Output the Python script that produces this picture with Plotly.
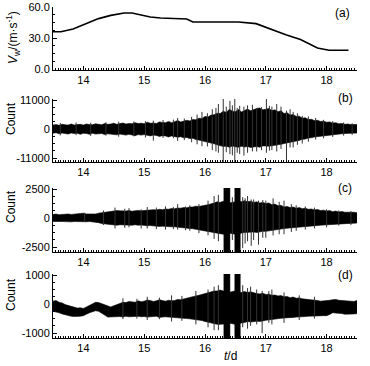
import plotly.graph_objects as go

# ---------------- data ----------------
# (a) wind speed
WIND_T = [13.5, 13.63, 13.83, 14.0, 14.25, 14.45, 14.67, 14.8, 14.95, 15.1, 15.27, 15.6, 15.7,
          15.8, 16.55, 16.84, 17.1, 17.33, 17.57, 17.85, 18.04, 18.36]
WIND_V = [36.0, 36.0, 38.7, 43.0, 48.6, 51.7, 54.0, 54.0, 52.4, 50.2, 49.2, 49.0, 48.3,
          45.4, 45.4, 43.8, 38.0, 33.3, 28.6, 20.6, 18.4, 18.4]

# envelope time grid (days)
T = [13.50, 13.55, 13.60, 13.65, 13.70, 13.75, 13.80, 13.85, 13.90, 13.95,
     14.00, 14.05, 14.10, 14.15, 14.20, 14.25, 14.30, 14.35, 14.40, 14.45,
     14.50, 14.55, 14.60, 14.65, 14.70, 14.75, 14.80, 14.85, 14.90, 14.95,
     15.00, 15.05, 15.10, 15.15, 15.20, 15.25, 15.30, 15.35, 15.40, 15.45,
     15.50, 15.55, 15.60, 15.65, 15.70, 15.75, 15.80, 15.85, 15.90, 15.95,
     16.00, 16.05, 16.10, 16.15, 16.20, 16.25, 16.30, 16.35, 16.40, 16.45,
     16.50, 16.55, 16.60, 16.65, 16.70, 16.75, 16.80, 16.85, 16.90, 16.95,
     17.00, 17.05, 17.10, 17.15, 17.20, 17.25, 17.30, 17.35, 17.40, 17.45,
     17.50, 17.55, 17.60, 17.65, 17.70, 17.75, 17.80, 17.85, 17.90, 17.95,
     18.00, 18.05, 18.10, 18.15, 18.20, 18.25, 18.30, 18.35, 18.40, 18.45, 18.50]

# (b) envelope
B_UP = [1500, 1700, 1400, 1800, 1600, 1500, 1900, 1500, 1700, 1800,
        1500, 1900, 1700, 1600, 2000, 1700, 1600, 2100, 1800, 1900,
        2200, 1800, 2000, 2300, 1900, 2100, 2000, 2400, 2100, 2200,
        2000, 2600, 2200, 2300, 2100, 2700, 2500, 2400, 2900, 2400,
        2800, 3200, 2700, 3100, 3300, 3100, 3600, 3500, 4100, 4000,
        4800, 4600, 5300, 5400, 6000, 5900, 6800, 6300, 7500, 6800,
        6600, 7400, 6500, 7000, 7600, 6900, 7400, 7800, 8000, 7300,
        7500, 7800, 7000, 7300, 6600, 6900, 5900, 6200, 5300, 5500,
        4800, 4900, 4100, 4300, 3600, 3700, 3200, 3300, 2900, 3000,
        2600, 2700, 2300, 2400, 2000, 2100, 1800, 1900, 1700, 1600, 1700]
B_LO = [-1600, -1400, -1800, -1500, -1700, -1900, -1500, -1700, -1600, -2000,
        -1600, -1700, -2000, -1600, -1900, -1800, -1700, -2100, -1800, -2000,
        -2000, -2200, -1900, -2100, -2300, -2000, -2200, -2500, -2100, -2300,
        -2100, -2400, -2600, -2300, -2400, -2800, -2500, -2600, -3000, -2600,
        -2800, -3100, -2900, -3300, -3200, -3600, -3500, -4000, -4200, -4300,
        -4700, -5000, -5300, -5600, -6000, -6400, -6600, -6500, -6900, -6400,
        -6700, -6900, -6500, -6800, -6600, -7000, -6800, -6600, -6900, -6400,
        -6400, -6500, -6300, -6200, -6000, -5800, -5500, -5300, -5000, -4800,
        -4500, -4300, -3900, -3800, -3400, -3300, -3000, -2900, -2700, -2600,
        -2400, -2300, -2100, -2000, -1900, -1800, -1700, -1700, -1600, -1500, -1500]
B_SPK_T = [13.62, 13.88, 14.12, 14.37, 14.58, 14.83, 15.02, 15.15, 15.31, 15.48,
           15.55, 15.66, 15.78, 15.87, 15.95, 16.04, 16.12, 16.18, 16.22, 16.30,
           16.35, 16.41, 16.45, 16.49, 16.53, 16.57, 16.64, 16.70, 16.78, 16.85,
           16.93, 17.01, 17.06, 17.10, 17.18, 17.25, 17.34, 17.40, 17.45, 17.52,
           17.60, 17.70, 17.82, 17.95, 18.10, 18.28, 18.42]
B_SPK_HI = [2300, 2500, 2400, 2600, 2800, 2900, 3000, 3200, 3400, 3600,
            4200, 4000, 4600, 5500, 6500, 6000, 7500, 8000, 9500, 12000,
            8500, 10700, 9000, 12000, 8000, 8800, 8500, 9000, 9200, 8000,
            8300, 12000, 8800, 8500, 9500, 8500, 7000, 7500, 6500, 6000,
            5000, 4800, 4200, 3500, 3000, 2500, 2200]
B_SPK_LO = [-2400, -2300, -2600, -2500, -2900, -2800, -3200, -4400, -3400, -3500,
            -4500, -4200, -5000, -5800, -6500, -6600, -8000, -8500, -9000, -13000,
            -8800, -9500, -10000, -13000, -9000, -9500, -10100, -9000, -8500, -8500,
            -8000, -9000, -8200, -8000, -8500, -7500, -12000, -7000, -7000, -6000,
            -5500, -4800, -4000, -3500, -3000, -2500, -2200]

# (c) envelope
C_UP = [300, 340, 280, 320, 300, 350, 310, 330, 320, 380,
        420, 350, 330, 360, 350, 420, 450, 520, 550, 600,
        600, 640, 620, 580, 600, 650, 580, 620, 660, 620,
        650, 700, 680, 720, 700, 750, 720, 780, 760, 820,
        800, 860, 850, 900, 880, 950, 950, 1020, 1000, 1080,
        1100, 1150, 1200, 1300, 1400, 1350, 1450, 1400, 1300, 1350,
        1400, 1450, 1400, 1500, 1400, 1450, 1350, 1400, 1300, 1350,
        1250, 1300, 1150, 1200, 1050, 1100, 950, 1000, 900, 950,
        850, 900, 800, 850, 750, 780, 700, 740, 650, 680,
        600, 640, 550, 600, 520, 560, 500, 520, 480, 500, 450]
C_LO = [-290, -320, -280, -300, -310, -290, -330, -300, -310, -290,
        -300, -320, -300, -330, -350, -400, -480, -520, -580, -560,
        -600, -620, -580, -600, -640, -600, -620, -580, -620, -600,
        -620, -660, -650, -690, -680, -720, -700, -740, -720, -760,
        -760, -800, -820, -860, -860, -900, -920, -960, -1000, -1040,
        -1080, -1150, -1200, -1250, -1300, -1350, -1400, -1350, -1300, -1350,
        -1400, -1350, -1300, -1250, -1250, -1200, -1200, -1250, -1200, -1150,
        -1150, -1100, -1100, -1050, -1000, -950, -900, -880, -850, -820,
        -800, -780, -750, -720, -700, -680, -650, -640, -620, -600,
        -580, -560, -540, -520, -500, -480, -470, -460, -450, -440, -430]
C_SPK_T = [14.02, 14.33, 14.52, 14.68, 14.75, 14.95, 15.05, 15.20, 15.35, 15.48,
           15.55, 15.68, 15.75, 15.90, 16.05, 16.15, 16.22, 16.45, 16.62, 16.66,
           16.70, 16.76, 16.80, 16.88, 16.95, 17.00, 17.12, 17.22, 17.30, 17.42,
           17.50, 17.65, 17.80, 18.00, 18.20, 18.40]
C_SPK_HI = [450, 650, 900, 800, 850, 750, 950, 900, 1000, 950,
            1200, 1000, 1100, 1200, 1500, 1900, 2000, 1800, 1800, 1700,
            1900, 1600, 1600, 1500, 1550, 1500, 1700, 1400, 1500, 1200,
            1100, 1000, 900, 750, 650, 600]
C_SPK_LO = [-350, -600, -900, -850, -800, -900, -900, -950, -1000, -950,
            -1000, -1050, -1100, -1300, -1500, -1800, -2000, -1900, -2600, -2200,
            -2000, -2400, -1900, -2300, -1700, -1700, -1500, -1400, -1400, -1200,
            -1100, -1000, -900, -800, -650, -600]
BURST_T0 = [16.31, 16.49]
BURST_T1 = [16.41, 16.58]

# (d) envelope
D_UP = [100, 120, 60, 40, -20, -50, -90, -120, -140, -130,
        -150, -100, -40, 20, 60, 50, 10, -30, -80, -100,
        -60, -30, 20, 60, 50, 90, 70, 60, 110, 80,
        100, 140, 120, 90, 110, 150, 120, 100, 130, 110,
        120, 160, 150, 180, 200, 240, 250, 280, 300, 330,
        350, 380, 400, 450, 450, 480, 450, 430, 400, 430,
        450, 420, 400, 430, 400, 420, 380, 360, 350, 370,
        330, 340, 300, 310, 280, 290, 250, 260, 220, 240,
        200, 210, 180, 170, 150, 160, 130, 120, 100, 110,
        100, 130, 150, 160, 130, 120, 100, 110, 100, 90, 120]
D_LO = [-250, -280, -300, -340, -380, -400, -420, -430, -430, -420,
        -400, -350, -300, -260, -230, -250, -300, -380, -450, -460,
        -450, -440, -430, -450, -420, -440, -420, -430, -420, -440,
        -430, -450, -450, -430, -420, -460, -450, -440, -450, -460,
        -470, -480, -480, -490, -500, -510, -520, -540, -550, -570,
        -600, -620, -650, -680, -700, -700, -700, -680, -650, -680,
        -700, -680, -650, -640, -600, -620, -600, -590, -600, -580,
        -560, -550, -530, -520, -500, -490, -480, -470, -460, -460,
        -450, -440, -430, -430, -420, -420, -420, -410, -400, -400,
        -400, -360, -300, -290, -320, -330, -350, -350, -350, -340, -330]
D_SPK_T = [14.65, 14.88, 15.05, 15.25, 15.45, 15.62, 15.85, 16.05, 16.15, 16.22,
           16.62, 16.70, 16.75, 16.85, 16.94, 17.05, 17.10, 17.30, 17.55, 17.80]
D_SPK_HI = [200, 180, 250, 220, 300, 280, 450, 500, 600, 650,
            650, 550, 600, 500, 450, 450, 500, 400, 300, 250]
D_SPK_LO = [-520, -500, -550, -520, -600, -580, -700, -800, -900, -900,
            -800, -850, -750, -700, -1000, -650, -700, -650, -550, -500]

# ---------------- figure ----------------
W, H = 370.0, 366.0
PL, PR = 53, 357          # plot area left/right in pixels
ML, MR = PL, int(W) - PR

def dom(top_px, bot_px):
    return [1 - bot_px / H, 1 - top_px / H]

FONT = "Liberation Sans, Arial, sans-serif"
fig = go.Figure()

fig.add_trace(go.Scatter(x=WIND_T, y=WIND_V, mode="lines", line=dict(color="black", width=1.6),
                         xaxis="x", yaxis="y", showlegend=False, hoverinfo="skip"))

def band(up, lo, xa, ya):
    fig.add_trace(go.Scatter(x=T + T[::-1], y=up + lo[::-1], mode="lines", fill="toself",
                             fillcolor="black", line=dict(color="black", width=0.6),
                             xaxis=xa, yaxis=ya, showlegend=False, hoverinfo="skip"))

def spikes(ts, hi, lo, xa, ya, color="#333"):
    xs, ys = [], []
    for t, h, l in zip(ts, hi, lo):
        xs += [t, t, None]
        ys += [h, l, None]
    fig.add_trace(go.Scatter(x=xs, y=ys, mode="lines", line=dict(color=color, width=1),
                             xaxis=xa, yaxis=ya, showlegend=False, hoverinfo="skip"))

def bursts(t0s, t1s, top, bot, xa, ya):
    for a, b in zip(t0s, t1s):
        fig.add_trace(go.Scatter(x=[a, b, b, a, a], y=[top, top, bot, bot, top], mode="lines",
                                 fill="toself", fillcolor="black", line=dict(color="black", width=0.5),
                                 xaxis=xa, yaxis=ya, showlegend=False, hoverinfo="skip"))

band(B_UP, B_LO, "x2", "y2")
spikes(B_SPK_T, B_SPK_HI, B_SPK_LO, "x2", "y2")
band(C_UP, C_LO, "x3", "y3")
spikes(C_SPK_T, C_SPK_HI, C_SPK_LO, "x3", "y3")
bursts(BURST_T0, BURST_T1, 3000, -3000, "x3", "y3")
band(D_UP, D_LO, "x4", "y4")
spikes(D_SPK_T, D_SPK_HI, D_SPK_LO, "x4", "y4")
bursts(BURST_T0, BURST_T1, 1200, -1200, "x4", "y4")

tickfont = dict(family=FONT, size=11, color="black")
def xax(anchor):
    return dict(domain=[0, 1], range=[13.5, 18.5], anchor=anchor, showline=True, linecolor="black",
                linewidth=1, ticks="inside", ticklen=4, tickcolor="black", tickvals=[14, 15, 16, 17, 18],
                minor=dict(dtick=1 / 24, tick0=0, ticks="inside", ticklen=2, tickcolor="black"),
                showgrid=False, zeroline=False, tickfont=tickfont, fixedrange=True)

def yax(anchor, d, rng, tv, tt, minor_dt):
    return dict(domain=d, range=rng, anchor=anchor, showline=True, linecolor="black", linewidth=1,
                ticks="inside", ticklen=4, tickcolor="black", tickvals=tv, ticktext=tt,
                minor=dict(dtick=minor_dt, tick0=0, ticks="inside", ticklen=2, tickcolor="black"),
                showgrid=False, zeroline=False, tickfont=tickfont, fixedrange=True)

fig.update_layout(
    width=W, height=H, plot_bgcolor="white", paper_bgcolor="white",
    margin=dict(l=ML, r=MR, t=0, b=0, autoexpand=False),
    hovermode=False,
    xaxis=xax("y"), xaxis2=xax("y2"), xaxis3=xax("y3"), xaxis4=xax("y4"),
    yaxis=yax("x", dom(6.7, 69.5), [0, 60], [0, 30, 60], ["0.0", "30.0", "60.0"], 7.5),
    yaxis2=yax("x2", dom(99, 162), [-12500, 11400], [-11000, 0, 11000], ["-11000", "0", "11000"], 2750),
    yaxis3=yax("x3", dom(188, 252), [-2930, 2590], [-2500, 0, 2500], ["-2500", "0", "2500"], 625),
    yaxis4=yax("x4", dom(274, 338), [-1170, 1035], [-1000, 0, 1000], ["-1000", "0", "1000"], 250),
)

ann = []
def pa(text, xpx, ypx, size=12, angle=0):
    ann.append(dict(text=text, x=(xpx - PL) / (PR - PL), y=1 - ypx / H,
                    xref="paper", yref="paper",
                    showarrow=False, textangle=angle, font=dict(family=FONT, size=size, color="black"),
                    xanchor="center", yanchor="middle"))

pa("<i>V</i><sub>w</sub>/(m·s<sup>-1</sup>)", 13, 38, 12, -90)
pa("Count", 11, 118, 12, -90)
pa("Count", 11, 206, 12, -90)
pa("Count", 11, 294, 12, -90)
pa("(a)", 342, 13, 12)
pa("(b)", 345, 98, 12)
pa("(c)", 345, 188, 12)
pa("(d)", 345, 275, 12)
pa("<i>t</i>/d", 230, 356, 12)
fig.update_layout(annotations=ann)

# remove the browser's default body margin so the figure sits at the window's top-left corner
fig.write_html("out.html", config={"displayModeBar": False, "staticPlot": True},
               post_script="document.body.style.margin='0px';document.body.style.overflow='hidden';")
